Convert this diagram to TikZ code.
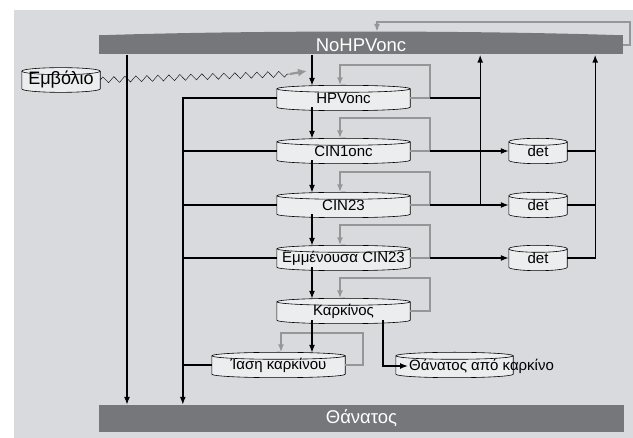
\documentclass[tikz,border=0pt]{standalone}
\usepackage{fontspec}
\setmainfont{Liberation Sans}
\usepackage{tikz}
\usetikzlibrary{arrows.meta,calc,positioning,backgrounds,decorations.pathmorphing}
\definecolor{panelgray}{RGB}{217,218,221}
\definecolor{bargray}{RGB}{118,119,123}
\definecolor{drumfill}{RGB}{236,237,239}
\definecolor{loopgray}{RGB}{150,150,150}
\tikzset{
  drum/.style={rectangle,minimum width=#1,minimum height=18pt,inner sep=0pt,
    font=\fontsize{15}{15}\selectfont},
  drum/.default=133pt,
  drumline/.style={fill=drumfill,draw=black,line width=0.6pt},
  bar/.style={rectangle,fill=bargray,text=white,inner sep=0pt,
    font=\fontsize{18.5}{18.5}\selectfont},
  flow/.style={-{Latex[length=8pt,width=6pt]},line width=1.4pt,black},
  link/.style={line width=1.4pt,black},
  selfloop/.style={-{Latex[length=8pt,width=6pt]},line width=2pt,loopgray},
  vaxline/.style={thin,black,decorate,decoration={zigzag,segment length=11pt,amplitude=3pt}},
  vaxarrow/.style={-{Latex[length=9pt,width=8pt]},line width=2.2pt,loopgray}
}
\begin{document}
\begin{tikzpicture}[x=1pt,y=-1pt]
  \useasboundingbox (0,0) rectangle (633,438);

  % top and bottom states
  \node[bar,minimum width=524pt,minimum height=19pt] (nohpv) at (361,45) {NoHPVonc};
  \fill[bargray] (nohpv.north west) .. controls +(150,-5) and +(-150,-5) .. (nohpv.north east) -- cycle;
  \node[bar,minimum width=525pt,minimum height=27pt] (death) at (361.5,418.5) {Θάνατος};

  % disease chain
  \node[drum] (hpv) at (343.5,98) {HPVonc};
  \node[drum] (cin1) at (343.5,151) {CIN1onc};
  \node[drum] (cin23) at (343.5,205) {CIN23};
  \node[drum] (pers) at (343.5,258) {Εμμένουσα CIN23};
  \node[drum] (canc) at (343.5,311) {Καρκίνος};
  \node[drum] (cure) at (278.5,365) {Ίαση καρκίνου};
  \node[drum=117pt] (cdeath) at (454.5,365) {};
  \node[anchor=west,inner sep=1pt,font=\fontsize{15}{15}\selectfont] (cdlabel) at (408,366) {Θάνατος από καρκίνο};
  \node[drum=58pt] (det1) at (538,151) {det};
  \node[drum=58pt] (det2) at (538,205) {det};
  \node[drum=58pt] (det3) at (538,258) {det};
  \node[drum=78pt,minimum height=17pt,font=\fontsize{18}{18}\selectfont] (vac) at (61,80) {Εμβόλιο};

  % drum bodies behind the texts
  \begin{pgfonlayer}{background}
    \fill[panelgray] (14,10) rectangle (633,438);
    \foreach \d in {hpv,cin1,cin23,pers,canc,cure,cdeath,det1,det2,det3,vac}{
      \path let \p1=(\d.west), \p2=(\d.east), \n1={(\x2-\x1)/2} in
        [drumline] (\d.north west) -- (\d.south west)
        arc[start angle=180,end angle=360,x radius=\n1,y radius=3.5pt]
        -- (\d.north east) arc[start angle=0,end angle=180,x radius=\n1,y radius=3.5pt] -- cycle;
      \path let \p1=(\d.west), \p2=(\d.east), \n1={(\x2-\x1)/2} in
        [draw=black,line width=0.6pt] (\d.north west)
        arc[start angle=180,end angle=360,x radius=\n1,y radius=3.5pt];
    }
  \end{pgfonlayer}

  % vaccination
  \coordinate (zz) at (290,74);
  \coordinate (vt) at (307,71);
  \draw[vaxline] (vac.east) -- (zz);
  \draw[vaxarrow] (zz) -- (vt);

  % staying in the same state
  \coordinate (jE) at (377,0);
  \draw[selfloop] (nohpv.east) -- ++(7,0) -- ++(0,-23) -| ($(jE |- nohpv.north)+(0,-3.5)$);
  \foreach \s in {hpv,cin1,cin23,pers,canc}
    \draw[selfloop] (\s.east) -- ++(20,0) -- ++(0,-33) -| ([xshift=-3.5pt,yshift=3.5pt]\s.north);
  \draw[selfloop] (cure.east) -- ++(18,0) -- ++(0,-32) -| ([xshift=2.5pt,yshift=3.5pt]cure.north);

  % progression
  \coordinate (col) at (312,0);
  \draw[flow] (nohpv.south -| col) -- ($(hpv.north -| col)+(0,-3)$);
  \draw[flow] (hpv.south -| col) -- ($(cin1.north -| col)+(0,-3)$);
  \draw[flow] (cin1.south -| col) -- ($(cin23.north -| col)+(0,-3)$);
  \draw[flow] (cin23.south -| col) -- ($(pers.north -| col)+(0,-3)$);
  \draw[flow] (pers.south -| col) -- ($(canc.north -| col)+(0,-3)$);
  \draw[flow] (canc.south -| col) -- ($(cure.north -| col)+(0,-3)$);
  \draw[flow] ([xshift=39.5pt]canc.south) |- (cdlabel.west);

  % regression and detection
  \draw[flow] ([xshift=20pt]hpv.east) -- ++(50,0) coordinate (jA) -- (jA |- nohpv.south);
  \draw[link] ([xshift=20pt]cin23.east) -| (jA);
  \draw[flow] ([xshift=20pt]cin1.east) -- (det1.west);
  \draw[flow] ([xshift=20pt]cin23.east) -- (det2.west);
  \draw[flow] ([xshift=20pt]pers.east) -- (det3.west);
  \draw[link] (det1.east) -- ++(28,0);
  \draw[link] (det2.east) -- ++(28,0);
  \draw[flow] (det3.east) -- ++(28,0) coordinate (jB) -- (jB |- nohpv.south);

  % other-cause mortality
  \draw[flow] (hpv.west) -- ++(-94,0) coordinate (jC) -- (jC |- death.north);
  \foreach \s in {cin1,cin23,pers,cure}
    \draw[link] (\s.west) -- (\s.west -| jC);
  \coordinate (jD) at (127,0);
  \draw[flow] (nohpv.south -| jD) -- (death.north -| jD);
\end{tikzpicture}
\end{document}
